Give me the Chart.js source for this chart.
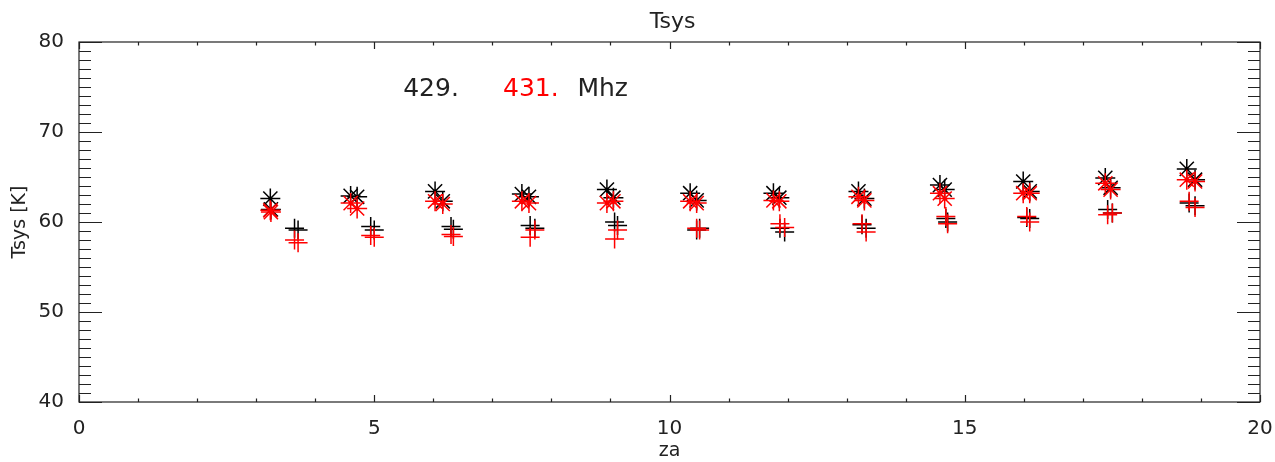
<!DOCTYPE html>
<html>
<head>
<meta charset="utf-8">
<script src="https://cdn.jsdelivr.net/npm/chart.js@4/dist/chart.umd.min.js"></script>
<style>
  html, body { margin: 0; padding: 0; background: #fff; }
  #wrap { width: 1275px; height: 462px; position: relative; }
</style>
</head>
<body>
<div id="wrap"><canvas id="tsysChart"></canvas></div>
<script>
// za positions (deg) for asterisk and plus groups, two scans per cluster
const zaAst = [3.24, 3.25, 4.60, 4.71, 6.03, 6.16, 7.50, 7.62, 8.94, 9.05, 10.35, 10.46,
               11.76, 11.86, 13.20, 13.30, 14.58, 14.66, 15.99, 16.10, 17.38, 17.47, 18.76, 18.90];
const zaPlus = [3.65, 3.71, 4.94, 5.00, 6.30, 6.34, 7.64, 7.72, 9.07, 9.12, 10.46, 10.51,
                11.87, 11.95, 13.26, 13.33, 14.68, 14.71, 16.05, 16.10, 17.42, 17.50, 18.80, 18.90];

// Tsys [K]
const ast429 = [62.6, 61.4, 62.9, 62.8, 63.4, 62.3, 63.1, 62.8, 63.6, 62.7, 63.2, 62.4,
                63.2, 62.7, 63.4, 62.6, 64.1, 63.6, 64.5, 63.4, 64.9, 63.8, 65.9, 64.7];
const ast431 = [61.3, 61.1, 62.1, 61.5, 62.3, 62.0, 62.3, 62.1, 62.1, 62.3, 62.3, 62.1,
                62.4, 62.3, 62.8, 62.4, 63.2, 62.6, 63.2, 63.2, 64.3, 63.6, 64.7, 64.5];
const plus429 = [59.3, 59.1, 59.5, 59.1, 59.5, 59.2, 59.6, 59.3, 60.0, 59.6, 59.1, 59.3,
                 59.3, 58.9, 59.7, 59.3, 60.4, 60.0, 60.5, 60.4, 61.4, 61.0, 62.1, 61.8];
const plus431 = [58.0, 57.7, 58.5, 58.3, 58.6, 58.4, 58.3, 59.1, 58.1, 59.1, 59.3, 59.1,
                 59.8, 59.4, 59.8, 58.9, 60.6, 59.8, 60.6, 60.0, 60.8, 61.0, 62.3, 61.6];

const xTicks = [0, 5, 10, 15, 20];
const yTicks = [40, 50, 60, 70, 80];

function toPoints(xs, ys) {
    return xs.map((x, i) => ({ x: x, y: ys[i] }));
}

const FONT = "'DejaVu Sans', sans-serif";
const INK = '#222';

// IDL style box with inward ticks, title and the frequency label
const boxPlugin = {
    id: 'idlBox',
    afterDraw(chart) {
        const ctx = chart.ctx;
        const a = chart.chartArea;
        const xs = chart.scales.x;
        const ys = chart.scales.y;
        ctx.save();
        ctx.strokeStyle = INK;
        ctx.lineWidth = 1.2;
        ctx.strokeRect(a.left, a.top, a.right - a.left, a.bottom - a.top);

        ctx.beginPath();
        for (let v = xs.min; v <= xs.max; v += 1) {
            const px = Math.round(xs.getPixelForValue(v)) + 0.5;
            const len = v % 5 === 0 ? 7 : 3.5;
            ctx.moveTo(px, a.bottom); ctx.lineTo(px, a.bottom - len);
            ctx.moveTo(px, a.top); ctx.lineTo(px, a.top + len);
        }
        for (let v = ys.min; v <= ys.max; v += 1) {
            const py = Math.round(ys.getPixelForValue(v)) + 0.5;
            const len = v % 10 === 0 ? 23 : 12;
            ctx.moveTo(a.left, py); ctx.lineTo(a.left + len, py);
            ctx.moveTo(a.right, py); ctx.lineTo(a.right - len, py);
        }
        ctx.stroke();

        // title over the plot box
        ctx.fillStyle = INK;
        ctx.font = '22px ' + FONT;
        ctx.textAlign = 'center';
        ctx.textBaseline = 'middle';
        ctx.fillText('Tsys', (a.left + a.right) / 2 + 3, 22);

        // "429.  431. Mhz"
        ctx.font = '25px ' + FONT;
        ctx.textAlign = 'left';
        const ty = ys.getPixelForValue(74.7);
        const parts = [['429.', INK, 5.49], ['431.', '#ff0000', 7.18], ['Mhz', INK, 8.44]];
        parts.forEach(p => {
            ctx.fillStyle = p[1];
            ctx.fillText(p[0], xs.getPixelForValue(p[2]), ty);
        });
        ctx.restore();
    }
};

// red (431 MHz) listed first so it is drawn on top, as in the original plot
const ctx = document.getElementById('tsysChart').getContext('2d');
new Chart(ctx, {
    type: 'scatter',
    data: {
        datasets: [
            { data: toPoints(zaAst, ast431), pointStyle: 'star', pointRadius: 10, borderColor: '#ff0000', backgroundColor: '#ff0000', borderWidth: 1.5 },
            { data: toPoints(zaPlus, plus431), pointStyle: 'cross', pointRadius: 9.5, borderColor: '#ff0000', backgroundColor: '#ff0000', borderWidth: 1.5 },
            { data: toPoints(zaAst, ast429), pointStyle: 'star', pointRadius: 10, borderColor: '#000', backgroundColor: '#000', borderWidth: 1.5 },
            { data: toPoints(zaPlus, plus429), pointStyle: 'cross', pointRadius: 9.5, borderColor: '#000', backgroundColor: '#000', borderWidth: 1.5 }
        ]
    },
    options: {
        responsive: true,
        maintainAspectRatio: false,
        animation: false,
        layout: { padding: { left: 0, right: 15, top: 42, bottom: 0 } },
        plugins: {
            legend: { display: false },
            tooltip: { enabled: false },
            title: { display: false }
        },
        scales: {
            x: {
                type: 'linear',
                min: 0,
                max: 20,
                afterBuildTicks: s => { s.ticks = xTicks.map(v => ({ value: v })); },
                afterFit: s => { s.height = 60; s.paddingLeft = 0; s.paddingRight = 0; },
                grid: { display: false },
                border: { display: false },
                ticks: { color: INK, font: { family: FONT, size: 20 }, padding: 7, maxRotation: 0 },
                title: { display: true, text: 'za', color: INK, font: { family: FONT, size: 19 }, padding: 0 }
            },
            y: {
                type: 'linear',
                min: 40,
                max: 80,
                afterBuildTicks: s => { s.ticks = yTicks.map(v => ({ value: v })); },
                afterFit: s => { s.width = 79; s.paddingTop = 0; s.paddingBottom = 0; },
                grid: { display: false },
                border: { display: false },
                ticks: { color: INK, font: { family: FONT, size: 20 }, padding: 7 },
                title: { display: true, text: 'Tsys [K]', color: INK, font: { family: FONT, size: 19 }, padding: { top: 9, bottom: 0 } }
            }
        }
    },
    plugins: [boxPlugin]
});
</script>
</body>
</html>
